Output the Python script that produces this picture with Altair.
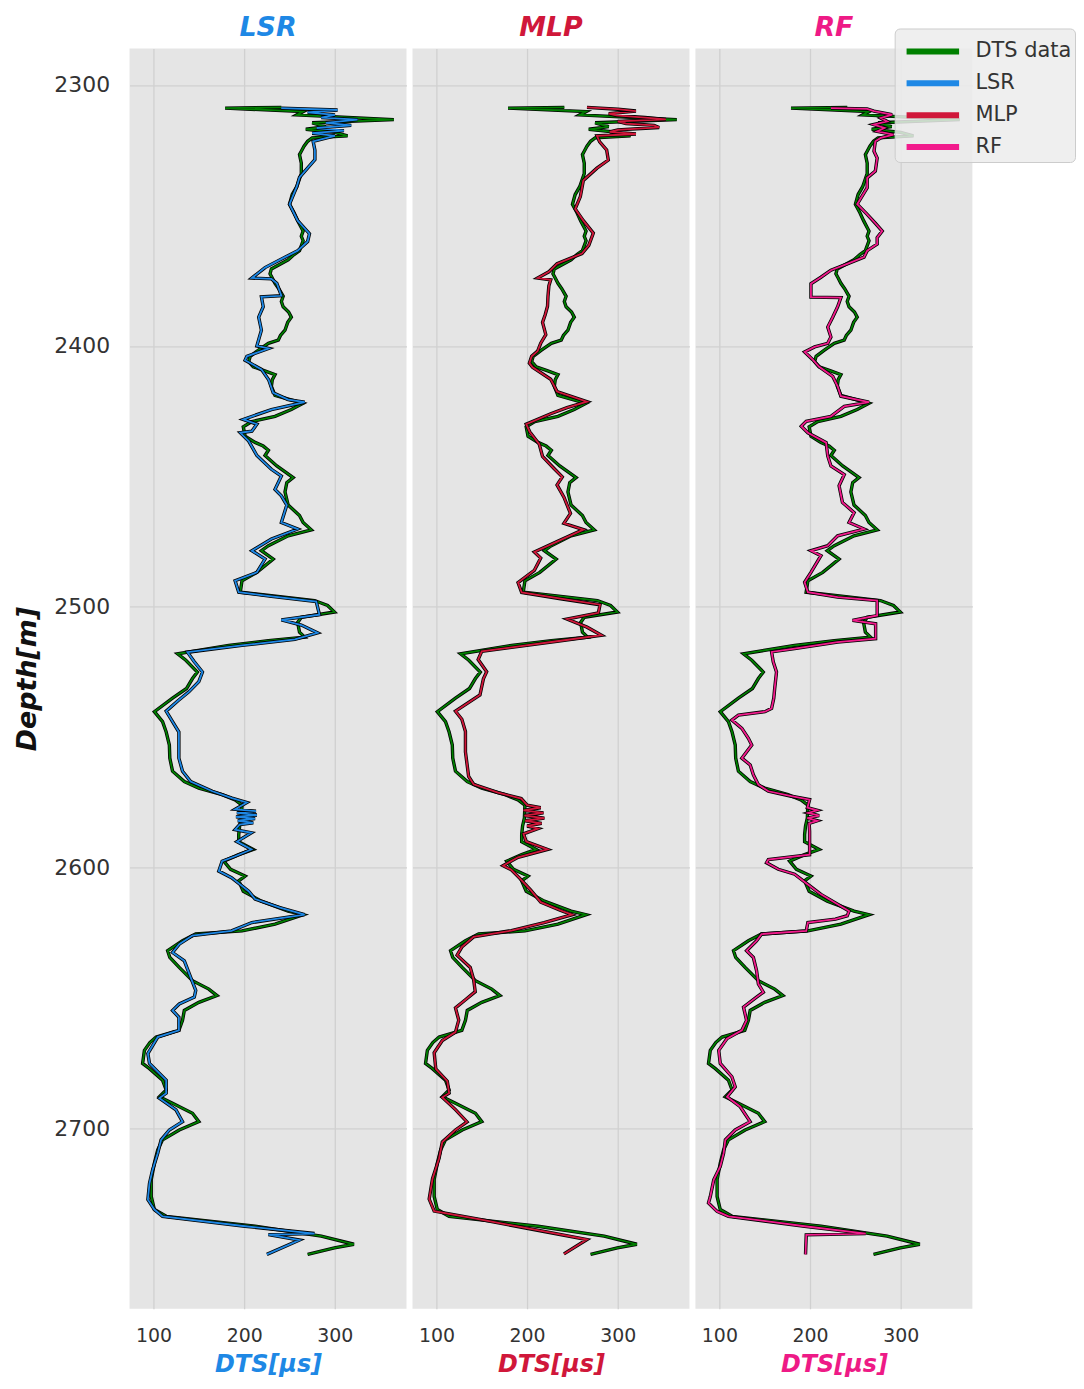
import altair as alt
import pandas as pd

# ---------------- data ----------------
dts_depth = [2308.9, 2308.6, 2310.2, 2311.5, 2313.3, 2314.5, 2316.0, 2317.0, 2318.2, 2319.5, 2320.3, 2321.6, 2323.5,
             2325.4, 2326.7, 2330.0, 2334.0, 2337.0, 2339.0, 2342.0, 2345.7, 2349.0, 2352.0, 2356.0, 2358.0, 2359.7,
             2363.5, 2365.0, 2367.0, 2370.5, 2372.4, 2374.0, 2376.0, 2378.0, 2381.0, 2383.0, 2385.0, 2387.0, 2389.0,
             2391.0, 2394.0, 2396.0, 2397.8, 2399.0, 2401.6, 2404.0, 2406.0, 2408.0, 2409.5, 2411.0, 2413.0, 2415.5,
             2419.0, 2422.0, 2424.4, 2427.0, 2429.0, 2431.0, 2434.6, 2437.0, 2438.4, 2440.0, 2442.0, 2446.0, 2450.5,
             2452.4, 2456.0, 2461.0, 2465.0, 2467.7, 2470.5, 2472.8, 2476.6, 2478.5, 2481.7, 2486.8, 2490.0, 2494.4,
             2495.7, 2497.6, 2499.5, 2502.0, 2504.0, 2506.0, 2509.7, 2511.6, 2513.0, 2514.8, 2518.0, 2520.5, 2525.0,
             2527.5, 2531.3, 2535.0, 2540.2, 2544.0, 2548.0, 2553.0, 2558.0, 2563.0, 2567.0, 2569.5, 2572.0, 2574.0,
             2576.0, 2581.0, 2584.0, 2587.3, 2590.0, 2593.0, 2595.0, 2597.5, 2600.6, 2603.2, 2605.0, 2609.0, 2612.8,
             2616.6, 2618.0, 2621.6, 2624.2, 2625.4, 2628.0, 2631.8, 2634.4, 2638.2, 2643.3, 2646.5, 2649.0, 2651.6,
             2654.7, 2658.5, 2662.3, 2664.9, 2667.0, 2670.0, 2675.0, 2677.0, 2681.4, 2685.2, 2687.8, 2690.3, 2694.1,
             2697.3, 2700.5, 2704.3, 2708.1, 2713.2, 2719.6, 2726.0, 2731.0, 2733.6, 2737.4, 2741.2, 2744.3, 2745.7,
             2748.2]
dts_value = [179, 241, 265, 258, 365, 275, 290, 268, 300, 314, 275, 270, 266,
             263, 261, 263, 263, 260, 258, 253, 250, 255, 259, 265, 263, 265,
             261, 255, 248.5, 230, 228.5, 231, 234, 238, 243, 241, 243, 249, 252,
             248, 245, 240, 237.6, 226.7, 215.8, 206.7, 205, 210, 222, 234, 231, 230,
             234, 265, 252, 234, 208.5, 199, 201, 212, 221, 226.7, 223, 236, 254,
             247, 245, 248.5, 261, 265, 274, 248.5, 226.7, 219, 232, 214, 197.6, 195.7,
             230, 277.6, 292, 299.5, 263, 259, 261, 266.7, 226.7, 183, 126.6, 135.7, 148.4,
             143, 136.5, 121, 101, 110, 114, 117.5, 118, 121, 134, 150, 175.7, 190,
             197.6, 197, 195, 194, 194, 210, 194, 177.5, 185, 201, 194, 199, 219,
             248.5, 265, 234, 197.6, 146.6, 132, 115.6, 118, 128.4, 143, 161, 170, 150,
             134, 132, 128, 103, 96, 90, 88, 95.6, 110, 114, 106.5, 121, 143,
             150, 128.4, 110, 104.7, 101, 97.5, 97.5, 101, 114, 212, 285, 321, 299.5,
             270]

lsr_depth = [2308.9, 2309.6, 2310.5, 2311.5, 2312.5, 2313.3, 2314.5, 2315.5, 2316.5, 2317.5, 2318.5, 2319.5, 2321.6,
             2325.0, 2328.6, 2331.0, 2335.4, 2339.0, 2345.7, 2352.0, 2357.0, 2360.0, 2363.5, 2366.0, 2370.0, 2374.0,
             2374.3, 2376.0, 2380.8, 2381.2, 2385.0, 2389.0, 2394.0, 2400.0, 2401.0, 2404.0, 2405.5, 2409.0, 2413.0,
             2418.0, 2420.6, 2421.6, 2424.4, 2428.2, 2430.0, 2432.7, 2433.3, 2436.5, 2442.0, 2447.3, 2449.9, 2455.0,
             2457.5, 2461.0, 2467.7, 2470.2, 2474.0, 2478.5, 2481.7, 2486.8, 2490.0, 2494.4, 2496.0, 2498.0, 2503.0,
             2505.0, 2507.0, 2510.0, 2512.5, 2514.8, 2517.4, 2521.0, 2525.0, 2528.7, 2532.6, 2536.0, 2540.0, 2544.0,
             2548.0, 2553.0, 2558.0, 2563.0, 2567.0, 2570.7, 2573.3, 2575.0, 2577.6, 2578.3, 2579.0, 2579.8, 2580.5,
             2581.2, 2582.0, 2582.8, 2583.5, 2585.4, 2586.6, 2590.0, 2593.0, 2595.6, 2597.5, 2601.3, 2603.8, 2609.0,
             2612.0, 2615.3, 2618.0, 2621.0, 2624.2, 2626.0, 2629.3, 2632.5, 2635.7, 2642.0, 2647.0, 2649.6, 2652.2,
             2654.7, 2657.3, 2662.3, 2664.9, 2671.2, 2675.0, 2681.4, 2686.4, 2688.3, 2692.8, 2697.3, 2700.5, 2704.3,
             2709.4, 2715.8, 2720.9, 2727.2, 2731.0, 2733.6, 2737.4, 2740.2, 2740.6, 2742.7, 2748.2]
lsr_value = [241, 303, 270, 300, 285, 325, 290, 318, 280, 310, 275, 300, 276,
             278, 278, 272, 261, 258, 250, 259, 272, 270, 259, 245, 223, 208.5,
             230, 236, 241, 219, 221, 216, 219, 214, 227, 203, 201, 219, 227,
             232, 248.5, 266.7, 230, 199, 214, 208.5, 195.7, 205, 214, 230, 241, 234,
             241, 247, 241, 259, 230, 208.5, 223, 214, 190, 194, 230, 279.5, 283,
             241, 263, 281, 256, 197.6, 137.5, 144.8, 154, 150, 139, 127, 114, 121,
             128, 128, 128, 132, 141, 165, 186.6, 203, 190, 213, 192, 214, 191,
             212, 193, 210, 195, 190, 208, 192, 208, 190, 175.7, 172, 186, 205,
             212, 239.4, 266.7, 208.5, 186, 143, 128.4, 121, 134, 141, 146.6, 145, 128.4,
             121, 128, 128, 104.7, 93.8, 95.6, 114, 114, 106.5, 124.8, 132, 117.5, 108.4,
             104.7, 99, 95.6, 93.8, 101, 110, 201, 277.6, 226.7, 261, 225]

mlp_depth = [2308.6, 2309.3, 2310.0, 2311.0, 2311.7, 2312.5, 2313.2, 2314.0, 2314.8, 2315.5, 2316.3, 2317.2, 2318.0,
             2318.8, 2319.5, 2321.8, 2324.9, 2328.8, 2331.9, 2336.6, 2342.8, 2347.5, 2352.0, 2356.8, 2361.5, 2364.6,
             2368.5, 2371.6, 2374.0, 2374.7, 2377.0, 2381.0, 2384.8, 2388.0, 2391.0, 2395.7, 2399.0, 2402.0, 2404.0,
             2406.6, 2408.2, 2412.8, 2417.5, 2421.4, 2423.7, 2426.0, 2430.0, 2433.0, 2437.7, 2442.4, 2447.0, 2450.2,
             2453.3, 2458.0, 2464.2, 2468.0, 2470.4, 2475.0, 2479.0, 2481.3, 2486.0, 2490.7, 2494.5, 2496.9, 2499.2,
             2502.3, 2504.7, 2507.8, 2510.9, 2513.2, 2517.1, 2520.2, 2524.9, 2527.6, 2533.8, 2540.0, 2543.1, 2547.8,
             2555.6, 2565.0, 2568.0, 2571.2, 2573.5, 2576.0, 2577.0, 2578.0, 2579.0, 2580.0, 2581.0, 2582.0, 2583.0,
             2584.0, 2585.0, 2587.0, 2590.0, 2593.0, 2596.0, 2599.2, 2600.8, 2604.0, 2608.6, 2613.2, 2616.4, 2618.0,
             2621.0, 2624.1, 2626.5, 2630.4, 2633.5, 2638.2, 2642.8, 2647.5, 2650.6, 2653.7, 2658.4, 2663.0, 2666.2,
             2670.9, 2677.1, 2681.8, 2686.4, 2688.0, 2692.7, 2697.4, 2700.5, 2705.1, 2711.4, 2719.2, 2727.0, 2731.6,
             2734.7, 2739.4, 2742.5, 2748.0]
mlp_value = [266, 300, 320, 290, 298.5, 330, 353, 300, 309, 340, 345.6, 300, 291,
             320, 277, 280, 287.7, 289.5, 277, 262, 258.7, 253, 262, 273, 268, 260.5,
             233, 224, 211.6, 226, 224, 223, 222.5, 220, 217, 220.6, 215, 211.6, 205,
             202.5, 206, 226, 233, 266, 244, 226, 199, 203, 213.4, 217, 229.7, 238.8,
             233, 240.6, 247.8, 240.6, 262, 233, 208, 215, 208, 190, 194, 237, 280.4,
             278.6, 244, 266, 282, 233, 150, 146, 155.4, 151.8, 148, 121, 128, 132,
             132, 135.5, 141, 168, 193.5, 200, 215, 196, 218, 197, 219, 198, 216,
             200, 212, 196, 199, 222.5, 190, 173.5, 182.6, 191.7, 204, 215, 237, 249.6,
             218.8, 182.6, 141, 128, 122.8, 137.3, 141, 142.8, 132, 121, 124.6, 121, 106.5,
             97.5, 99.3, 112, 114, 106.5, 121, 133.7, 121, 106.5, 102.9, 95.7, 92, 97.5,
             146.4, 218.8, 266, 240.6]

rf_depth = [2308.9, 2309.2, 2310.0, 2311.4, 2312.7, 2314.0, 2315.2, 2316.5, 2317.8, 2319.0, 2320.3, 2321.6, 2325.4,
            2328.0, 2333.0, 2335.6, 2339.4, 2345.7, 2349.6, 2353.0, 2356.0, 2358.5, 2361.0, 2363.5, 2366.0, 2368.6,
            2371.0, 2373.7, 2376.2, 2381.3, 2381.5, 2385.0, 2389.0, 2392.8, 2396.6, 2399.0, 2400.4, 2402.3, 2405.3,
            2408.0, 2411.7, 2415.5, 2419.3, 2421.6, 2423.2, 2427.0, 2428.9, 2430.8, 2433.3, 2437.1, 2442.2, 2446.0,
            2449.3, 2453.6, 2460.0, 2463.9, 2467.7, 2470.2, 2472.8, 2476.6, 2478.5, 2480.4, 2486.8, 2490.6, 2494.4,
            2496.3, 2497.6, 2503.3, 2505.2, 2506.5, 2512.2, 2513.5, 2516.0, 2517.3, 2521.1, 2525.0, 2531.3, 2535.0,
            2538.9, 2540.2, 2541.5, 2543.4, 2546.6, 2550.4, 2553.0, 2558.0, 2560.6, 2564.4, 2568.2, 2570.7, 2572.6,
            2573.9, 2577.0, 2578.0, 2579.0, 2580.0, 2581.0, 2582.0, 2583.0, 2586.0, 2590.0, 2595.0, 2596.9, 2598.1,
            2600.6, 2602.5, 2606.4, 2610.2, 2614.0, 2616.6, 2618.4, 2619.7, 2621.0, 2624.2, 2625.4, 2628.0, 2631.8,
            2634.4, 2639.4, 2644.5, 2647.7, 2649.6, 2653.4, 2658.5, 2662.3, 2665.5, 2670.0, 2675.0, 2680.1, 2684.0,
            2687.8, 2691.6, 2697.3, 2700.5, 2704.3, 2709.4, 2714.5, 2719.6, 2726.0, 2728.5, 2731.7, 2733.6, 2737.4,
            2740.2, 2740.7, 2748.2]
rf_value = [223, 263, 270.5, 290.5, 278, 285, 270, 282, 274, 292, 278, 272, 270.5,
            274, 272, 263, 263, 252, 263, 272, 279.6, 274, 274, 263, 259.5, 241,
            223, 212, 201, 201, 234, 230.4, 225, 219.5, 223, 219.5, 205, 194, 203,
            210, 225, 230.4, 234, 265, 237.7, 223, 195.8, 190.3, 197.6, 217.7, 219.5, 223,
            237.7, 232, 235.7, 248.6, 243, 259.6, 230.4, 219.5, 201, 212, 201, 194, 197.6,
            230.4, 274, 274, 246.8, 272.3, 272.3, 230.4, 183, 157.6, 159.4, 163, 161, 160,
            157.6, 150.3, 121, 113.8, 124.8, 132, 135.7, 124.8, 134, 137.5, 143, 154, 179.4,
            199.5, 197, 208, 198, 210, 197, 208, 199, 199.5, 199.5, 199.5, 154, 152,
            165, 183, 197.6, 212, 230.4, 243, 241, 228, 197.6, 195.8, 146.6, 141, 130,
            137.5, 141, 143, 148.5, 141, 126.6, 130, 124.8, 108.4, 99.3, 101, 113.8, 117.5,
            108.4, 123, 133.9, 117.5, 106.6, 104.7, 101, 93.8, 90, 88, 97.5, 110, 194,
            261.4, 195.8, 195]

series_names = ["DTS data", "LSR", "MLP", "RF"]
series_colors = ["#008000", "#1E88E5", "#D0173A", "#F21B8C"]
title_colors = {"LSR": "#1E88E5", "MLP": "#D0173A", "RF": "#EE1A86"}
x_ticks = [100, 200, 300]
y_ticks = [2300, 2400, 2500, 2600, 2700]

color_scale = alt.Scale(domain=series_names, range=series_colors)
legend = alt.Legend(orient="none", legendX=768, legendY=-20, title=None,
                    symbolType="M-0.65,0L2.45,0", symbolStrokeWidth=6, symbolSize=1156,
                    symbolFillColor="transparent",
                    labelFontSize=21, labelFont="DejaVu Sans", labelColor="#333333",
                    fillColor="rgba(236,236,236,0.85)", strokeColor="#cccccc",
                    cornerRadius=5, padding=3, rowPadding=0, labelOffset=38)


def panel(name, depth, value, first):
    color = title_colors[name]
    df_d = pd.DataFrame({"depth": dts_depth, "value": dts_value, "series": "DTS data"})
    df_p = pd.DataFrame({"depth": depth, "value": value, "series": name})
    xenc = alt.X("value:Q",
                 scale=alt.Scale(domain=[73.6, 379], nice=False, zero=False),
                 axis=alt.Axis(values=x_ticks, title="DTS[μs]", titleColor=color,
                               titleFontSize=24, titleFontStyle="italic", titleFontWeight="bold",
                               titlePadding=7, labelFontSize=19, labelPadding=18))
    if first:
        yaxis = alt.Axis(values=y_ticks, format="d", title="Depth[m]", titleFontSize=27,
                         titleFontStyle="italic", titleFontWeight="bold", titleColor="#111111",
                         titlePadding=12, labelFontSize=22, labelPadding=20)
    else:
        yaxis = alt.Axis(values=y_ticks, title=None, labels=False)
    yenc = alt.Y("depth:Q", scale=alt.Scale(domain=[2286, 2769], reverse=True, nice=False, zero=False),
                 axis=yaxis)

    def lay(df):
        base = alt.Chart(df).encode(x=xenc, y=yenc, order=alt.Order("depth:Q"))
        outline = base.mark_line(color="black", strokeWidth=3.4)
        line = base.mark_line(strokeWidth=1.8).encode(
            color=alt.Color("series:N", scale=color_scale, legend=legend))
        return outline + line

    return alt.layer(lay(df_d), lay(df_p)).properties(
        width=278, height=1265,
        title=alt.TitleParams(name, fontSize=27, font="DejaVu Sans", fontStyle="italic",
                              fontWeight="bold", color=color, offset=6, anchor="middle"))


chart = alt.hconcat(
    panel("LSR", lsr_depth, lsr_value, True),
    panel("MLP", mlp_depth, mlp_value, False),
    panel("RF", rf_depth, rf_value, False),
    spacing=6,
).properties(
    padding={"left": 6, "top": 4, "right": 0, "bottom": 0}
).configure_view(
    fill="#E5E5E5", stroke=None
).configure_axis(
    gridColor="#D0D0D0", gridWidth=1.3, domain=False, ticks=False,
    labelFont="DejaVu Sans", titleFont="DejaVu Sans", labelColor="#333333"
)

chart.save("out.html", embed_options={"renderer": "svg", "actions": False})
